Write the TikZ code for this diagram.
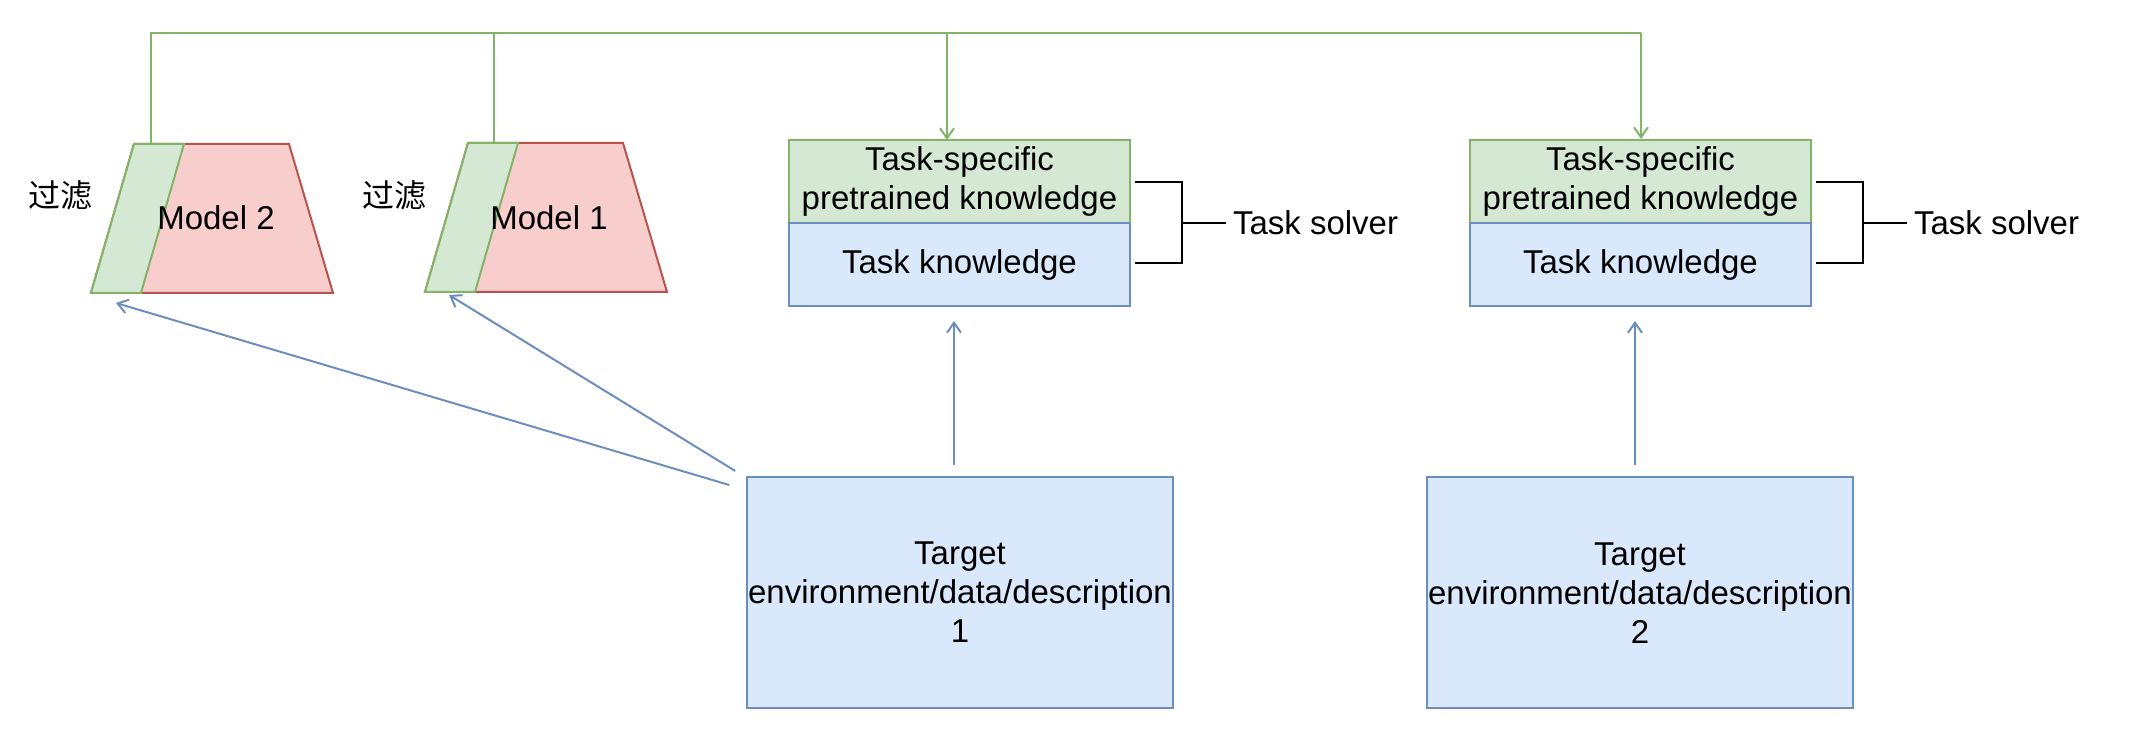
\documentclass[tikz,border=0pt]{standalone}
\usepackage{fontspec}
\setmainfont{Liberation Sans}
\newfontfamily\cjk{Noto Sans CJK SC}
\usetikzlibrary{arrows.meta,calc}
\definecolor{gfill}{HTML}{D5E8D4}
\definecolor{gline}{HTML}{82B366}
\definecolor{rfill}{HTML}{F8CECC}
\definecolor{rline}{HTML}{B85450}
\definecolor{bfill}{HTML}{DAE8FC}
\definecolor{bline}{HTML}{6C8EBF}
\begin{document}
\begin{tikzpicture}[x=0.5pt,y=-0.5pt,
  txt/.style={font=\fontsize{16.5pt}{19.5pt}\selectfont, inner sep=0pt, align=center},
  gbox/.style={txt, rectangle, draw=gline, fill=gfill, line width=1pt, minimum width=170.5pt, minimum height=41.5pt},
  bbox/.style={txt, rectangle, draw=bline, fill=bfill, line width=1pt, minimum width=170.5pt, minimum height=41.5pt},
  tbox/.style={txt, rectangle, draw=bline, fill=bfill, line width=1pt, minimum width=213.25pt, minimum height=115.5pt},
  greenconn/.style={draw=gline, line width=1pt},
  blueconn/.style={draw=bline, line width=1pt},
  bracketline/.style={draw=black, line width=1pt},
  tipopen/.style={-{Straight Barb[length=5pt,width=7pt,line width=1pt]}},
  cjklab/.style={font=\cjk\fontsize{16pt}{19pt}\selectfont, inner sep=0pt}
]
\useasboundingbox (0,0) rectangle (2132,742);

% Model 2
\filldraw[fill=rfill, draw=rline, line width=1pt, line join=miter] (134,144) -- (289,144) -- (333,293) -- (91,293) -- cycle;
\filldraw[fill=gfill, draw=gline, line width=1pt, line join=miter] (134,144) -- (184,144) -- (141,293) -- (91,293) -- cycle;
\node[txt] (m2lab) at (216,218) {Model 2};
\node[cjklab] (f2) at (60,195) {过滤};
\coordinate (m2top) at (151,144);
\coordinate (m2tip) at (116,303);

% Model 1
\filldraw[fill=rfill, draw=rline, line width=1pt, line join=miter] (468,143) -- (623,143) -- (667,292) -- (425,292) -- cycle;
\filldraw[fill=gfill, draw=gline, line width=1pt, line join=miter] (468,143) -- (518,143) -- (475,292) -- (425,292) -- cycle;
\node[txt] (m1lab) at (549,218) {Model 1};
\node[cjklab] (f1) at (394,195) {过滤};
\coordinate (m1top) at (494,143);
\coordinate (m1tip) at (449,295);

% Task solver 1
\node[gbox] (ts1) at (959.5,181.5) {Task-specific\\pretrained knowledge};
\node[bbox] (tk1) at (959.5,264.5) {Task knowledge};
% Task solver 2
\node[gbox] (ts2) at (1640.5,181.5) {Task-specific\\pretrained knowledge};
\node[bbox] (tk2) at (1640.5,264.5) {Task knowledge};

% Targets
\node[tbox] (tg1) at (960,592.5) {Target\\environment/data/description\\1};
\node[tbox] (tg2) at (1640,593) {Target\\environment/data/description\\2};

% Brackets
\draw[bracketline] ($(ts1.east)+(4,0.5)$) -- ++(47,0) |- ($(tk1.east)+(4,-1.5)$);
\draw[bracketline] ($(ts1.south east)+(51,-1)$) -- ++(44,0) node[txt, anchor=west, xshift=3pt] (sol1) {Task solver};
\draw[bracketline] ($(ts2.east)+(4,0.5)$) -- ++(47,0) |- ($(tk2.east)+(4,-1.5)$);
\draw[bracketline] ($(ts2.south east)+(51,-1)$) -- ++(44,0) node[txt, anchor=west, xshift=3pt] (sol2) {Task solver};

% Green bus
\coordinate (busL) at (151,33);
\coordinate (busR) at (1641,33);
\coordinate (ts1in) at (947,140);
\draw[greenconn, line join=miter] (m2top) -- (busL) -- (busR);
\draw[greenconn] (m1top) -- (m1top |- busL);
\draw[greenconn, tipopen] (ts1in |- busL) -- (ts1in);
\draw[greenconn, tipopen] (busR) -- (busR |- ts2.north);

% Blue arrows
\draw[blueconn, tipopen] ($(tg1.north)+(-6,-11)$) -- ($(tk1.south)+(-5.5,14)$);
\draw[blueconn, tipopen] ($(tg2.north)+(-5,-11)$) -- ($(tk2.south)+(-5.5,14)$);
\draw[blueconn, tipopen] ($(tg1.north west)+(-16.5,9)$) -- (m2tip);
\draw[blueconn, tipopen] ($(tg1.north west)+(-10.5,-5)$) -- (m1tip);
\end{tikzpicture}
\end{document}
